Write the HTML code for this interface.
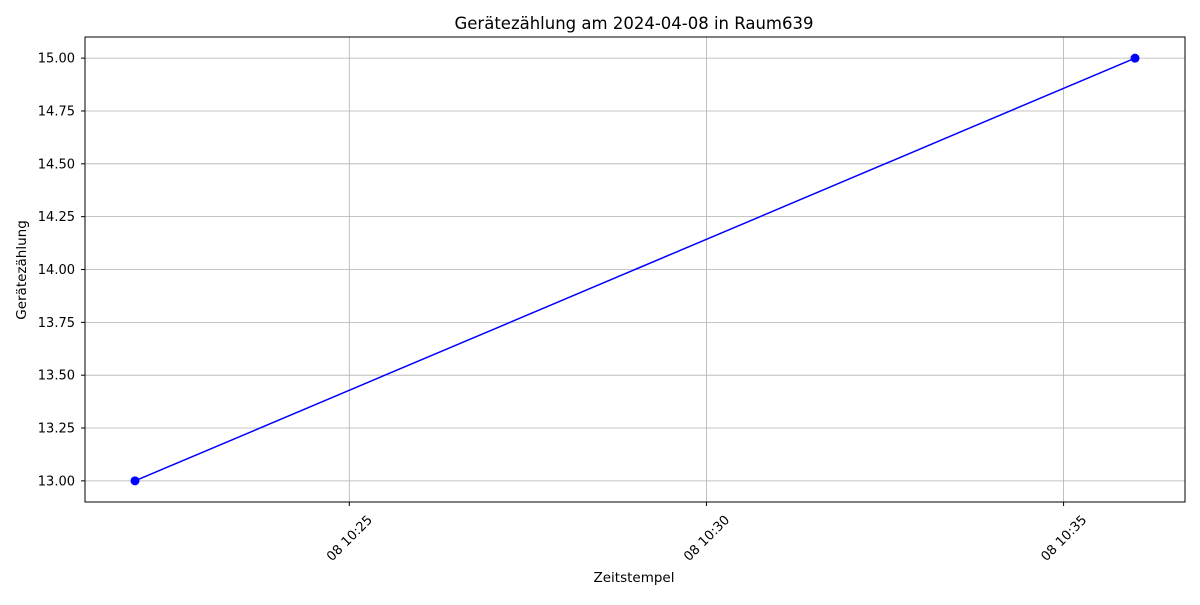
<!DOCTYPE html>
<html><head><meta charset="utf-8"><style>
body{margin:0;background:#fff;}
svg text{font-family:"DejaVu Sans","Liberation Sans",sans-serif;fill:#000;}
</style></head><body>
<svg id="chart" width="1200" height="600" xmlns="http://www.w3.org/2000/svg">
<text x="634" y="29" font-size="16.5" text-anchor="middle">Gerätezählung am 2024-04-08 in Raum639</text>
<text x="634" y="582" font-size="13.5" text-anchor="middle">Zeitstempel</text>
<text x="0" y="0" font-size="13.5" text-anchor="middle" transform="translate(26,270) rotate(-90)">Gerätezählung</text>
<g id="grid"></g><g id="series"></g>
<rect x="85" y="37" width="1100" height="465" fill="none" stroke="#000" stroke-width="1"/>
<g id="ticks"></g>
</svg>
<script>
const times = [22, 36]; // minutes after 10:00
const counts = [13, 15];
const yTicks = [13.00, 13.25, 13.50, 13.75, 14.00, 14.25, 14.50, 14.75, 15.00];
const xTicks = [25, 30, 35];
const xTickLabels = ["08 10:25", "08 10:30", "08 10:35"];

const L=85,R=1185,T=37,B=502;
const xMin=22-0.7, xMax=36+0.7, yMin=12.9, yMax=15.1;
const sx=v=>L+(v-xMin)/(xMax-xMin)*(R-L);
const sy=v=>B-(v-yMin)/(yMax-yMin)*(B-T);
const NS="http://www.w3.org/2000/svg";
function mk(tag,attrs,parent,text){const e=document.createElementNS(NS,tag);for(const k in attrs)e.setAttribute(k,attrs[k]);if(text!==undefined)e.textContent=text;parent.appendChild(e);return e;}
const grid=document.getElementById('grid'),ticks=document.getElementById('ticks'),series=document.getElementById('series');
yTicks.forEach(v=>{
  const y=sy(v);
  const g=mk('line',{x1:L,x2:R,y1:y,y2:y,stroke:'#b0b0b0','stroke-width':0.8},grid);
  
  
  const t=mk('line',{x1:L-4,x2:L,y1:y,y2:y,stroke:'#000'},ticks);
  
  
  const l=mk('text',{x:L-10,y:y+4.5,'font-size':13,'text-anchor':'end'},ticks,v.toFixed(2));
  
  
});
xTicks.forEach((v,i)=>{
  const x=sx(v);
  const g=mk('line',{x1:x,x2:x,y1:T,y2:B,stroke:'#b0b0b0','stroke-width':0.8},grid);
  
  
  const t=mk('line',{x1:x,x2:x,y1:B,y2:B+4,stroke:'#000'},ticks);
  
  
  const l=mk('text',{x:0,y:4.5,'font-size':13,'text-anchor':'middle',transform:`translate(${x},${B+36}) rotate(-45)`},ticks,xTickLabels[i]);
  
  
});
const pts=times.map((t,i)=>sx(t)+','+sy(counts[i])).join(' ');
const pl=mk('polyline',{points:pts,fill:'none',stroke:'#0000ff','stroke-width':1.5},series);


times.forEach((t,i)=>{
  const c=mk('circle',{cx:sx(t),cy:sy(counts[i]),r:4.5,fill:'#0000ff'},series);
  
  
});
</script>
</body></html>
